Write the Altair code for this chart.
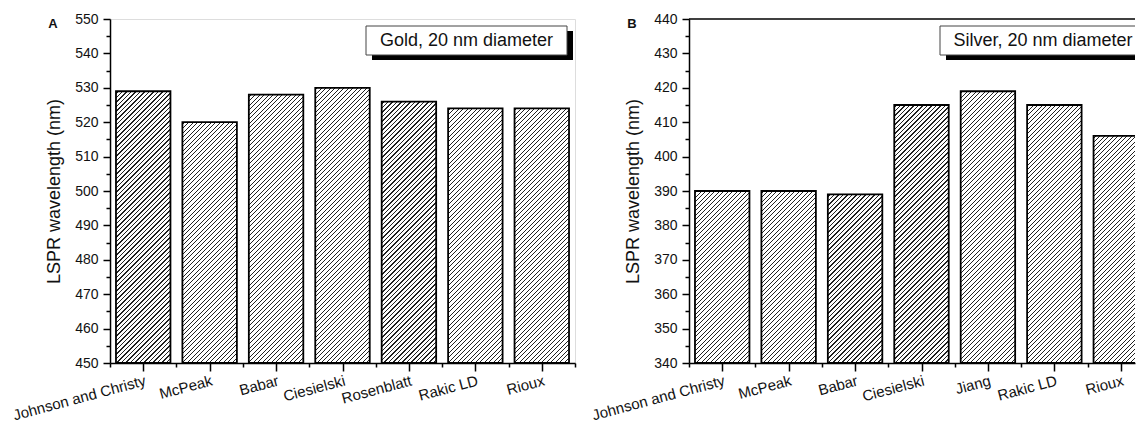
import json
import altair as alt
import pandas as pd

# ---- data ----
gold_names = ["Johnson and Christy", "McPeak", "Babar", "Ciesielski", "Rosenblatt", "Rakic LD", "Rioux"]
gold_values = [529, 520, 528, 530, 526, 524, 524]
silver_names = ["Johnson and Christy", "McPeak", "Babar", "Ciesielski", "Jiang", "Rakic LD", "Rioux"]
silver_values = [390, 390, 389, 415, 419, 415, 406]

gold_range = [450, 550]
silver_range = [340, 440]
gold_ticks = list(range(450, 551, 5))
silver_ticks = list(range(340, 441, 5))

FONT = "Liberation Sans"
PW, PH = 465, 344          # full panel plot size
HALF = 0.41
STEP = PW / 7.0


def hatch(W, H, period=4.5, thick=1.1, dark="#222222"):
    L = W + H
    s = L / (W * W + H * H)
    stops = [{"offset": 0, "color": "white"}]
    c = period / 2
    while c - thick / 2 < L:
        a = max(0.0, (c - thick / 2) / L)
        b = min(1.0, (c + thick / 2) / L)
        stops += [
            {"offset": a, "color": "white"},
            {"offset": a, "color": dark},
            {"offset": b, "color": dark},
            {"offset": b, "color": "white"},
        ]
        c += period
    stops.append({"offset": 1, "color": "white"})
    return {"gradient": "linear", "x1": 0, "y1": 0, "x2": s * W, "y2": s * H, "stops": stops}


def panel(names, values, yr, yticks, letter, legend, vis_w, box):
    n = len(names)
    df = pd.DataFrame({"idx": list(range(n)), "name": names, "value": values})
    df["lo"] = df["idx"] - HALF
    df["hi"] = df["idx"] + HALF
    W = 2 * HALF * STEP
    grads = [hatch(W, (v - yr[0]) / (yr[1] - yr[0]) * PH) for v in values]
    cond = [{"test": f"datum.idx === {i}", "value": grads[i]} for i in range(n)]

    xmax = -0.5 + vis_w / STEP
    xticks = [i / 2 - 0.5 for i in range(2 * n + 1) if i / 2 - 0.5 <= xmax + 1e-9]
    xscale = alt.Scale(domain=[-0.5, xmax], nice=False, zero=False)
    yscale = alt.Scale(domain=yr, nice=False, zero=False)
    arr = json.dumps(names)
    xaxis = alt.Axis(
        values=xticks, title=None, grid=False,
        labelExpr=f"datum.value % 1 === 0 ? {arr}[datum.value] : ''",
        labelAngle=345, labelAlign="right", labelBaseline="top",
        labelFontSize=15, labelPadding=2, labelColor="#111", labelFont=FONT,
        tickSize={"condition": {"test": "datum.value % 1 === 0", "value": 8}, "value": 4},
        tickColor="black", tickWidth=1.5, domainColor="black", domainWidth=1.5,
        labelOverlap=False, labelFlush=False,
    )
    yaxis = alt.Axis(
        values=yticks, grid=False, title="LSPR wavelength (nm)",
        labelExpr="datum.value % 10 === 0 ? datum.label : ''",
        labelFontSize=14, labelPadding=5, labelColor="#111", labelFont=FONT,
        titleFontSize=18, titleFontWeight="normal", titleColor="#111", titleFont=FONT,
        titlePadding=11,
        tickSize={"condition": {"test": "datum.value % 10 === 0", "value": 7}, "value": 4},
        tickColor="black", tickWidth=1.5, domainColor="black", domainWidth=1.5,
        labelOverlap=False, labelFlush=False,
    )

    bars = alt.Chart(df).mark_bar(stroke="black", strokeWidth=1.8, clip=True).encode(
        x=alt.X("lo:Q", scale=xscale, axis=xaxis),
        x2="hi:Q",
        y=alt.Y("value:Q", scale=yscale, axis=yaxis),
        y2=alt.datum(yr[0]),
        fill=alt.value(grads[0], condition=cond),
    )

    bx0, bx1 = box
    one = pd.DataFrame({"t": [legend], "letter": [letter]})
    shadow = alt.Chart(one).mark_rect(fill="black", clip=True).encode(
        x=alt.value(bx0 + 6), x2=alt.value(bx1 + 6), y=alt.value(12), y2=alt.value(41)
    )
    boxm = alt.Chart(one).mark_rect(fill="white", stroke="#444", strokeWidth=1, clip=True).encode(
        x=alt.value(bx0), x2=alt.value(bx1), y=alt.value(7), y2=alt.value(36)
    )
    txt = alt.Chart(one).mark_text(fontSize=18, font=FONT, color="#111", baseline="middle",
                                   align="center").encode(
        x=alt.value((bx0 + bx1) / 2), y=alt.value(22), text="t:N"
    )
    lab = alt.Chart(one).mark_text(fontSize=13, fontWeight="bold", font=FONT, color="#111",
                                   baseline="middle", align="center").encode(
        x=alt.value(-57), y=alt.value(5), text="letter:N"
    )
    top = alt.Chart(one).mark_rule(color="black", strokeWidth=1.5).encode(
        x=alt.value(0), x2=alt.value(vis_w), y=alt.value(0)
    )
    layers = [bars, shadow, boxm, txt, lab]
    props = dict(width=vis_w, height=PH)
    if vis_w < PW:
        layers.append(top)
        props["view"] = alt.ViewBackground(stroke=None)
    return alt.layer(*layers).properties(**props)


a = panel(gold_names, gold_values, gold_range, gold_ticks, "A", "Gold, 20 nm diameter", PW, (256, 457))
b = panel(silver_names, silver_values, silver_range, silver_ticks, "B", "Silver, 20 nm diameter", 446, (251, 457))

chart = alt.hconcat(a, b, spacing=10).configure_view(stroke="black", strokeWidth=1.5).configure(
    font=FONT, background="white"
).properties(padding={"left": 2, "top": 3, "right": 0, "bottom": -2})

chart.save("out.html", embed_options={"renderer": "svg", "actions": False})
